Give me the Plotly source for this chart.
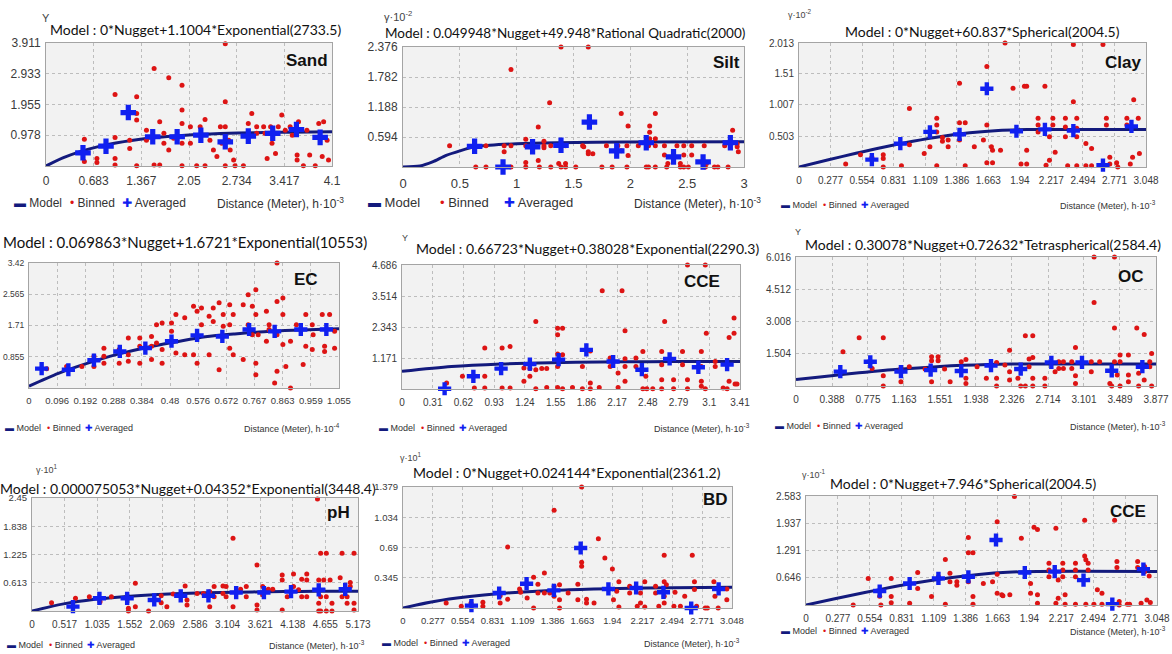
import plotly.graph_objects as go

W, H = 1172, 654

# ======================= DATA =======================
# ---- Sand ----
sand_binned = [(0.55,0.85),(0.55,0.14),(0.73,0.24),(0.73,0.11),(0.99,2.27),(0.99,0.91),(0.99,0.24),(0.99,0.03),
    (1.20,0.82),(1.20,0.56),(1.30,2.20),(1.30,1.67),(1.30,1.46),(1.30,0.01),(1.44,1.14),(1.44,0.82),(1.55,3.10),(1.55,0.03),
    (1.63,1.41),(1.63,0.03),(1.69,1.04),(1.69,0.72),(1.76,2.81),(1.76,0.51),(1.83,0.88),(1.95,2.57),(1.95,1.78),(1.95,1.35),
    (1.95,0.72),(1.95,0.01),(2.07,1.25),(2.07,0.72),(2.16,0.01),(2.21,1.25),(2.21,0.98),(2.28,1.48),(2.28,0.01),(2.35,0.82),
    (2.40,0.51),(2.45,0.30),(2.50,1.25),(2.52,0.72),(2.57,3.89),(2.57,2.04),(2.57,1.25),(2.57,0.01),(2.62,0.82),(2.64,0.51),
    (2.69,0.19),(2.71,0.01),(2.83,0.01),(2.90,1.35),(2.95,1.67),(3.02,1.25),(3.02,1.04),(3.12,1.25),(3.14,1.04),(3.17,0.24),
    (3.22,1.25),(3.24,0.72),(3.29,0.40),(3.33,1.25),(3.38,1.62),(3.43,1.14),(3.50,1.25),(3.53,0.98),(3.60,0.19),(3.60,0.35),
    (3.62,1.41),(3.69,0.01),(3.74,1.14),(3.78,0.35),(3.86,0.01),(3.91,1.35),(3.96,0.30),(3.98,1.41),(4.03,0.82),(4.05,0.19)]
sand_averaged = [(0.53,0.42),(0.86,0.63),(1.18,1.70),(1.53,0.93),(1.88,0.93),(2.22,0.98),(2.57,0.77),(2.90,0.95),
    (3.25,1.04),(3.59,1.16),(3.93,0.91)]
sand_model_h = [0, 0.25, 0.5, 0.75, 1.0, 1.25, 1.5, 2.0, 2.5, 3.0, 3.5, 4.1]
sand_model_g = [0, 0.264, 0.465, 0.617, 0.733, 0.821, 0.888, 0.978, 1.030, 1.059, 1.077, 1.088]
sand_xticks = [0, 0.683, 1.367, 2.05, 2.734, 3.417, 4.1]
sand_yticks = [0.978, 1.955, 2.933, 3.911]

# ---- Silt ----
silt_binned = [(0.41,0.42),(0.64,0.0),(0.73,0.0),(0.95,0.0),(1.08,0.0),(1.20,0.0),(1.30,0.0),(1.39,0.0),(1.43,0.0),
    (1.52,0.0),(1.75,0.0),(1.84,0.0),(1.97,0.0),(2.14,0.0),(2.16,0.0),(2.22,0.0),(2.32,0.0),(2.44,0.0),(2.47,0.0),
    (2.51,0.0),(2.66,0.0),(2.74,0.0),(2.77,0.0),(2.86,0.0),
    (0.73,0.42),(0.89,0.42),(0.95,0.42),(1.08,0.42),(1.24,0.42),(1.30,0.42),(1.43,0.42),(1.58,0.42),(1.79,0.42),
    (1.89,0.42),(1.97,0.42),(2.07,0.42),(2.16,0.42),(2.22,0.42),(2.30,0.42),(2.41,0.42),(2.47,0.42),(2.54,0.42),
    (2.65,0.42),(2.83,0.42),
    (0.95,1.93),(1.29,1.27),(1.39,2.376),(1.63,2.376),(1.19,0.79),(1.08,0.55),(0.89,0.30),(1.19,0.13),(1.24,0.51),
    (1.24,0.38),(1.59,0.40),(1.63,0.30),(1.63,0.26),(1.67,0.26),(1.37,0.07),(1.43,0.07),(1.08,0.09),(1.92,1.06),
    (1.98,0.81),(1.92,0.32),(1.98,0.23),(2.22,1.06),(2.17,0.81),(2.17,0.69),(2.17,0.56),(2.22,0.56),(2.30,0.24),
    (2.33,0.07),(2.47,0.24),(2.54,0.24),(2.44,0.07),(2.90,0.73),(2.94,0.40),(2.95,0.30),(2.67,0.07),(2.94,0.46)]
silt_averaged = [(0.63,0.41),(0.88,0.0),(1.14,0.40),(1.39,0.43),(1.64,0.89),(1.88,0.32),(2.14,0.48),(2.38,0.20),
    (2.64,0.10),(2.88,0.48)]
silt_model_h = [0, 0.15, 0.26, 0.38, 0.5, 0.63, 0.76, 1.0, 1.35, 1.94, 3.0]
silt_model_g = [0, 0.02, 0.10, 0.23, 0.32, 0.40, 0.43, 0.46, 0.48, 0.495, 0.50]
silt_xticks = [0, 0.5, 1, 1.5, 2, 2.5, 3]
silt_yticks = [0.594, 1.188, 1.782, 2.376]

# ---- Clay ----
clay_binned = [(0.41,0.05),(0.54,0.20),(0.64,0.16),(0.74,0.20),(0.74,0.14),(0.74,0.0),(0.90,0.02),(0.97,0.95),
    (0.97,0.36),(1.10,0.22),(1.15,0.33),(1.21,0.79),(1.21,0.68),(1.21,0.57),(1.21,0.02),(1.26,0.48),(1.26,0.42),
    (1.31,0.44),(1.31,0.33),(1.41,1.36),(1.41,0.72),(1.41,0.44),(1.46,0.72),(1.46,0.02),(1.54,0.33),(1.62,0.44),
    (1.65,1.63),(1.65,0.68),(1.65,0.07),(1.69,0.33),(1.70,0.27),(1.70,0.07),(1.77,0.27),(1.81,2.013),(1.88,1.28),
    (1.95,0.05),(1.98,1.31),(2.00,1.31),(2.00,0.27),(2.00,0.05),(2.10,0.79),(2.10,0.68),(2.10,0.57),(2.16,1.31),
    (2.17,0.03),(2.20,0.49),(2.20,0.11),(2.23,0.79),(2.23,0.68),(2.25,0.24),(2.34,0.79),(2.34,0.65),(2.34,0.49),
    (2.36,0.02),(2.41,1.99),(2.41,1.06),(2.44,0.79),(2.44,0.63),(2.44,0.49),(2.44,0.02),(2.52,0.38),(2.52,0.02),
    (2.57,0.30),(2.57,0.02),(2.67,1.99),(2.70,0.79),(2.70,0.68),(2.73,0.16),(2.73,0.05),(2.79,0.07),(2.80,0.0),
    (2.88,0.79),(2.88,0.68),(2.91,0.05),(2.93,0.16),(2.94,1.09),(2.98,0.79),(2.99,0.22)]
clay_averaged = [(0.64,0.12),(0.89,0.38),(1.15,0.57),(1.41,0.53),(1.65,1.27),(1.91,0.58),(2.16,0.61),(2.41,0.59),
    (2.67,0.03),(2.92,0.66)]
clay_model_h = [0, 0.25, 0.5, 0.75, 1.0, 1.25, 1.5, 1.75, 2.0045, 3.048]
clay_model_g = [0, 0.113, 0.223, 0.326, 0.417, 0.495, 0.555, 0.594, 0.608, 0.608]
clay_xticks = [0, 0.277, 0.554, 0.831, 1.109, 1.386, 1.663, 1.94, 2.217, 2.494, 2.771, 3.048]
clay_yticks = [0.503, 1.007, 1.51, 2.013]

# ---- EC ----
ec_binned = [(0.06,0.53),(0.128,0.59),(0.18,0.59),(0.221,0.87),(0.221,0.59),(0.255,1.09),(0.255,0.87),(0.255,0.68),
    (0.307,1.05),(0.307,0.68),(0.338,1.37),(0.338,0.91),(0.338,0.73),(0.377,1.37),(0.377,1.14),(0.377,0.68),
    (0.417,1.41),(0.417,1.14),(0.417,0.78),(0.434,1.73),(0.434,1.23),(0.453,1.78),(0.453,1.05),(0.453,0.68),
    (0.485,1.78),(0.485,1.55),(0.50,2.01),(0.50,0.96),(0.53,1.92),(0.53,0.91),(0.56,2.24),(0.56,0.91),(0.572,2.10),
    (0.572,0.68),(0.587,2.19),(0.587,1.73),(0.613,1.96),(0.613,0.91),(0.627,2.19),(0.627,1.82),(0.647,2.33),
    (0.647,0.50),(0.661,2.01),(0.661,1.69),(0.683,2.28),(0.683,1.73),(0.683,1.09),(0.695,2.01),(0.695,0.91),
    (0.729,2.28),(0.729,0.78),(0.746,2.55),(0.746,1.73),(0.760,2.24),(0.760,1.46),(0.772,2.69),(0.772,2.01),
    (0.772,0.68),(0.772,0.36),(0.78,1.46),(0.808,2.10),(0.808,1.28),(0.817,1.73),(0.817,1.60),(0.836,0.14),
    (0.844,3.42),(0.844,2.37),(0.844,1.46),(0.844,0.46),(0.864,2.46),(0.864,2.01),(0.864,1.19),(0.874,0.59),
    (0.89,0.0),(0.89,1.28),(0.91,1.73),(0.933,0.64),(0.942,2.01),(0.942,1.14),(0.964,1.73),(0.964,1.05),
    (0.967,1.46),(0.998,2.01),(1.006,1.14),(1.006,1.00),(1.023,2.01),(1.040,1.55),(1.040,1.09)]
ec_averaged = [(0.043,0.53),(0.134,0.50),(0.221,0.76),(0.309,1.00),(0.396,1.09),(0.485,1.28),(0.572,1.44),
    (0.658,1.41),(0.749,1.60),(0.836,1.55),(0.925,1.60),(1.012,1.60)]
ec_model_h = [0, 0.1, 0.2, 0.3, 0.4, 0.5, 0.6, 0.7, 0.8, 0.9, 1.055]
ec_model_g = [0.05, 0.40, 0.68, 0.92, 1.11, 1.26, 1.40, 1.48, 1.54, 1.58, 1.62]
ec_xticks = [0, 0.096, 0.192, 0.288, 0.384, 0.48, 0.576, 0.672, 0.767, 0.863, 0.959, 1.055]
ec_yticks = [0.855, 1.71, 2.565, 3.42]

# ---- CCE (row 2) ----
cce_binned = [(0.45,0.23),(0.61,0.48),(0.73,0.04),(0.835,1.55),(0.835,0.48),(0.835,0.04),(1.01,1.55),(1.01,0.04),
    (1.09,1.61),(1.09,0.04),(1.23,0.79),(1.23,0.29),(1.29,0.77),(1.29,0.48),(1.35,2.55),(1.35,0.73),(1.35,0.01),
    (1.41,0.77),(1.46,0.77),(1.46,0.06),(1.57,2.30),(1.57,2.05),(1.57,1.32),(1.57,0.85),(1.57,0.06),(1.62,2.30),
    (1.62,1.29),(1.62,0.01),(1.72,0.06),(1.82,0.85),(1.82,0.01),(1.90,1.44),(1.90,0.23),(1.90,0.01),(1.99,0.06),
    (2.02,3.71),(2.10,0.85),(2.10,1.17),(2.18,0.60),(2.18,0.06),(2.22,3.71),(2.25,2.20),(2.25,1.14),(2.25,0.85),
    (2.25,0.29),(2.36,1.17),(2.36,0.85),(2.43,1.42),(2.43,0.01),(2.46,0.48),(2.47,0.01),(2.53,0.01),(2.62,1.42),
    (2.62,0.92),(2.62,0.35),(2.62,0.01),(2.65,2.55),(2.74,0.35),(2.74,0.01),(2.83,1.42),(2.83,0.92),(2.88,0.35),
    (2.88,0.01),(2.88,4.686),(3.02,1.42),(3.02,0.85),(3.02,0.29),(3.02,0.10),(3.06,4.686),(3.07,2.11),(3.06,0.01),
    (3.16,1.04),(3.16,0.85),(3.24,0.04),(3.28,0.01),(3.30,1.95),(3.30,0.29),(3.35,2.68),(3.35,2.11),(3.36,0.19),
    (3.38,0.19)]
cce_averaged = [(0.43,0.01),(0.72,0.48),(1.00,0.77),(1.29,0.94),(1.58,1.11),(1.86,1.48),(2.13,1.04),(2.42,0.73),
    (2.70,1.14),(2.99,0.82),(3.28,0.92)]
cce_model_h = [0, 0.5, 1.0, 1.5, 2.0, 2.5, 3.0, 3.41]
cce_model_g = [0.667, 0.850, 0.945, 0.994, 1.020, 1.033, 1.040, 1.043]
cce_xticks = [0, 0.31, 0.62, 0.93, 1.24, 1.55, 1.86, 2.17, 2.48, 2.79, 3.1, 3.41]
cce_yticks = [1.171, 2.343, 3.514, 4.686]

# ---- OC ----
oc_binned = [(0.506,1.60),(0.68,2.25),(0.82,0.82),(0.94,2.25),(0.94,0.48),(0.94,0.0),(1.13,0.82),(1.13,0.20),
    (1.22,0.90),(1.39,0.79),(1.46,1.36),(1.46,1.18),(1.46,0.20),(1.53,1.36),(1.53,1.18),(1.60,0.79),(1.66,0.20),
    (1.78,1.13),(1.83,1.24),(1.83,0.36),(1.83,0.12),(1.95,0.90),(2.05,0.36),(2.16,1.10),(2.16,0.36),(2.16,0.0),
    (2.25,0.98),(2.30,1.67),(2.30,0.67),(2.30,0.28),(2.39,0.36),(2.42,0.0),(2.47,2.34),(2.47,0.0),(2.51,1.26),
    (2.51,0.90),(2.55,2.34),(2.55,1.33),(2.55,0.36),(2.55,0.0),(2.68,0.36),(2.68,0.0),(2.79,0.67),(2.83,1.13),
    (2.83,0.82),(2.88,1.13),(2.88,0.82),(2.97,1.13),(2.97,0.82),(3.01,1.80),(3.01,0.48),(3.01,0.12),(3.18,1.13),
    (3.18,0.67),(3.21,6.016),(3.21,3.89),(3.27,1.13),(3.38,0.12),(3.40,0.0),(3.43,6.016),(3.43,2.71),(3.43,1.13),
    (3.46,0.51),(3.49,1.44),(3.49,1.13),(3.49,0.0),(3.58,1.44),(3.58,0.51),(3.58,0.20),(3.67,2.71),(3.69,0.59),
    (3.69,0.0),(3.75,2.40),(3.75,0.28),(3.81,1.13),(3.81,0.90),(3.83,1.52),(3.83,0.0)]
oc_averaged = [(0.477,0.67),(0.80,1.13),(1.13,0.67),(1.45,0.74),(1.78,0.70),(2.10,0.95),(2.42,0.79),(2.75,1.10),
    (3.08,1.10),(3.40,0.71),(3.73,0.90)]
oc_model_h = [0, 0.258, 0.517, 1.034, 1.551, 2.068, 2.326, 2.584, 3.877]
oc_model_g = [0.301, 0.424, 0.543, 0.755, 0.915, 1.005, 1.023, 1.027, 1.027]
oc_xticks = [0, 0.388, 0.775, 1.163, 1.551, 1.938, 2.326, 2.714, 3.101, 3.489, 3.877]
oc_yticks = [1.504, 3.008, 4.512, 6.016]

# ---- pH ----
ph_binned = [(0.31,0.18),(0.69,0.275),(0.91,0.31),(1.08,0.20),(1.26,0.31),(1.53,0.06),(1.53,0.0),(1.64,0.60),
    (1.64,0.09),(1.85,0.0),(2.05,0.33),(2.05,0.18),(2.14,0.09),(2.24,0.37),(2.43,0.54),(2.46,0.24),(2.46,0.13),
    (2.62,0.38),(2.72,0.38),(2.82,0.42),(2.82,0.09),(2.89,0.53),(2.89,0.31),(3.03,0.54),(3.03,0.38),(3.08,0.53),
    (3.08,0.31),(3.19,1.58),(3.19,0.09),(3.31,0.47),(3.40,0.53),(3.40,0.31),(3.57,1.00),(3.57,0.13),(3.57,0.02),
    (3.66,0.53),(3.66,0.35),(3.75,0.47),(3.82,0.47),(3.97,0.78),(3.97,0.67),(3.97,0.02),(4.05,0.31),(4.15,0.80),
    (4.15,0.53),(4.23,0.46),(4.28,0.69),(4.28,0.31),(4.36,0.80),(4.36,0.67),(4.36,0.31),(4.53,2.43),(4.55,0.67),
    (4.55,0.17),(4.55,0.0),(4.58,1.25),(4.58,0.31),(4.58,0.0),(4.63,0.67),(4.67,1.25),(4.67,0.31),(4.67,0.0),
    (4.73,0.67),(4.76,0.17),(4.76,0.0),(4.89,0.72),(4.92,1.25),(4.92,0.31),(5.00,0.31),(5.00,0.17),(5.05,0.62),
    (5.05,0.53),(5.11,1.25),(5.11,0.17),(5.11,0.02)]
ph_averaged = [(0.65,0.094),(1.07,0.275),(1.51,0.275),(1.94,0.24),(2.36,0.33),(2.80,0.33),(3.24,0.40),(3.68,0.40),
    (4.11,0.42),(4.55,0.46),(4.97,0.47)]
ph_model_h = [0, 0.5, 1.0, 1.5, 2.0, 2.5, 3.0, 3.5, 4.0, 4.5, 5.173]
ph_model_g = [0, 0.154, 0.253, 0.317, 0.359, 0.386, 0.403, 0.414, 0.422, 0.427, 0.430]
ph_xticks = [0, 0.517, 1.035, 1.552, 2.069, 2.586, 3.104, 3.621, 4.138, 4.655, 5.173]
ph_yticks = [0.613, 1.225, 1.838, 2.45]

# ---- BD ----
bd_binned = [(0.40,0.057),(0.54,0.019),(0.63,0.057),(0.74,0.065),(0.74,0.019),(0.90,0.14),(0.90,0.057),(0.97,0.695),
    (0.97,0.10),(1.08,0.217),(1.09,0.18),(1.15,0.114),(1.21,0.35),(1.21,0.0),(1.25,0.27),(1.25,0.17),(1.31,0.40),
    (1.31,0.17),(1.36,0.17),(1.40,1.113),(1.40,0.247),(1.40,0.133),(1.45,0.266),(1.45,0.095),(1.45,0.0),(1.53,0.17),
    (1.62,0.27),(1.62,0.095),(1.655,1.379),(1.655,0.52),(1.655,0.475),(1.70,0.10),(1.70,0.057),(1.77,0.057),
    (1.81,0.79),(1.87,0.57),(1.94,0.445),(1.95,0.095),(1.98,0.19),(2.00,0.30),(2.00,0.01),(2.10,0.247),(2.10,0.17),
    (2.17,0.019),(2.20,0.17),(2.20,0.057),(2.24,0.30),(2.24,0.01),(2.34,0.247),(2.34,0.17),(2.37,0.019),(2.42,0.60),
    (2.42,0.30),(2.42,0.133),(2.42,0.057),(2.44,0.266),(2.51,0.019),(2.52,0.18),(2.57,0.019),(2.61,0.133),
    (2.68,0.60),(2.70,0.30),(2.70,0.21),(2.72,0.019),(2.80,0.0),(2.82,0.0),(2.88,0.30),(2.89,0.133),(2.92,0.0),
    (3.00,0.095),(3.00,0.217)]
bd_averaged = [(0.634,0.027),(0.891,0.171),(1.145,0.277),(1.398,0.201),(1.646,0.684),(1.903,0.217),(2.160,0.228),
    (2.413,0.179),(2.670,0.0),(2.924,0.217)]
bd_model_h = [0, 0.25, 0.5, 0.75, 1.0, 1.5, 2.0, 2.5, 3.048]
bd_model_g = [0, 0.066, 0.113, 0.148, 0.174, 0.206, 0.222, 0.231, 0.236]
bd_xticks = [0, 0.277, 0.554, 0.831, 1.109, 1.386, 1.663, 1.94, 2.217, 2.494, 2.771, 3.048]
bd_yticks = [0.345, 0.69, 1.034, 1.379]

# ---- CCE (row 3) ----
cce2_binned = [(0.41,0.0),(0.54,0.63),(0.64,0.21),(0.65,0.0),(0.74,0.63),(0.74,0.20),(0.74,0.055),(0.90,0.04),
    (0.97,0.77),(0.97,0.39),(1.09,0.20),(1.15,0.67),(1.21,1.08),(1.21,0.02),(1.25,0.75),(1.25,0.55),(1.31,0.55),
    (1.31,0.47),(1.41,1.60),(1.41,1.24),(1.41,0.55),(1.45,1.24),(1.45,0.20),(1.45,0.02),(1.54,0.51),(1.62,0.55),
    (1.66,1.97),(1.66,0.73),(1.66,0.28),(1.70,0.24),(1.71,0.22),(1.77,0.24),(1.81,2.57),(1.87,1.58),(1.95,0.51),
    (1.95,0.28),(1.98,1.84),(2.01,1.79),(2.01,0.24),(2.01,0.04),(2.11,0.99),(2.11,0.83),(2.11,0.67),(2.17,1.82),
    (2.17,0.04),(2.19,0.59),(2.19,0.16),(2.23,0.99),(2.23,0.83),(2.23,0.67),(2.25,0.24),(2.25,0.02),(2.34,0.99),
    (2.34,0.83),(2.34,0.67),(2.34,0.02),(2.42,2.01),(2.42,1.16),(2.43,1.07),(2.43,0.02),(2.45,0.99),(2.45,0.83),
    (2.50,0.02),(2.53,0.36),(2.57,0.28),(2.57,0.02),(2.68,2.01),(2.70,1.03),(2.70,0.89),(2.72,0.08),(2.72,0.0),
    (2.79,0.02),(2.81,0.02),(2.88,1.03),(2.88,0.89),(2.91,0.04),(2.94,0.91),(2.94,0.79),(2.96,0.12),(2.98,0.69),
    (2.99,0.06)]
cce2_averaged = [(0.64,0.33),(0.90,0.51),(1.15,0.63),(1.41,0.67),(1.65,1.54),(1.90,0.77),(2.16,0.79),(2.41,0.59),
    (2.66,0.02),(2.93,0.85)]
cce2_model_h = [0, 0.25, 0.5, 0.75, 1.0, 1.25, 1.5, 1.75, 2.0045, 3.048]
cce2_model_g = [0, 0.148, 0.291, 0.425, 0.545, 0.647, 0.725, 0.776, 0.795, 0.795]
cce2_xticks = [0, 0.277, 0.554, 0.831, 1.109, 1.386, 1.663, 1.94, 2.217, 2.494, 2.771, 3.048]
cce2_yticks = [0.646, 1.291, 1.937, 2.583]

legend_names = ["Model", "Binned", "Averaged"]

# ======================= LAYOUT / STYLE =======================
def fx(p):
    return p / W

def fy(p):
    return 1 - p / H

TICKF = "Liberation Sans, Arial, sans-serif"
TITLEF = "Lato, Open Sans, sans-serif"
BOLDF = "Liberation Sans, Arial, sans-serif"
LEGF = "Liberation Sans, DejaVu Sans, sans-serif"

D3 = "Distance (Meter), h·10<sup>-3</sup>"
D4 = "Distance (Meter), h·10<sup>-4</sup>"

panels = [
    dict(binned=sand_binned, avg=sand_averaged, mh=sand_model_h, mg=sand_model_g, xt=sand_xticks, yt=sand_yticks,
         rect=(46, 43, 332, 166), title="Model : 0*Nugget+1.1004*Exponential(2733.5)", txy=(195, 30), ts=14,
         label="Sand", lxy=(330, 60), ylab="Y", yxy=(40, 18), dist=D3, dxy=(346, 203),
         leg=(12, 203, 12, (0, 56, 108)), tfs=12, ytfs=12, big=True),
    dict(binned=silt_binned, avg=silt_averaged, mh=silt_model_h, mg=silt_model_g, xt=silt_xticks, yt=silt_yticks,
         rect=(403, 47, 744, 167), title="Model : 0.049948*Nugget+49.948*Rational Quadratic(2000)", txy=(565, 33),
         ts=13.5, label="Silt", lxy=(742, 62), ylab="γ·10<sup>-2</sup>", yxy=(382, 16), dist=D3, dxy=(763, 203),
         leg=(366, 203, 13, (0, 72, 136)), tfs=13, ytfs=12, big=True),
    dict(binned=clay_binned, avg=clay_averaged, mh=clay_model_h, mg=clay_model_g, xt=clay_xticks, yt=clay_yticks,
         rect=(799, 43, 1146, 167), title="Model : 0*Nugget+60.837*Spherical(2004.5)", txy=(982, 32), ts=14,
         label="Clay", lxy=(1143, 62), ylab="γ·10<sup>-2</sup>", yxy=(786, 14), dist=D3, dxy=(1158, 205),
         leg=(779, 205, 9, (0, 42, 80)), tfs=10, ytfs=10, big=False),
    dict(binned=ec_binned, avg=ec_averaged, mh=ec_model_h, mg=ec_model_g, xt=ec_xticks, yt=ec_yticks,
         rect=(29, 263, 339, 388), title="Model : 0.069863*Nugget+1.6721*Exponential(10553)", txy=(185, 242), ts=15,
         label="EC", lxy=(320, 279), ylab="", yxy=(30, 240), dist=D4, dxy=(342, 428),
         leg=(3, 428, 9, (0, 42, 80)), tfs=9.5, ytfs=8.5, big=False),
    dict(binned=cce_binned, avg=cce_averaged, mh=cce_model_h, mg=cce_model_g, xt=cce_xticks, yt=cce_yticks,
         rect=(402, 265, 740, 389), title="Model : 0.66723*Nugget+0.38028*Exponential(2290.3)", txy=(587, 248), ts=14,
         label="CCE", lxy=(722, 281), ylab="Y", yxy=(400, 238), dist=D3, dxy=(752, 428),
         leg=(377, 428, 9, (0, 42, 80)), tfs=10, ytfs=10, big=False),
    dict(binned=oc_binned, avg=oc_averaged, mh=oc_model_h, mg=oc_model_g, xt=oc_xticks, yt=oc_yticks,
         rect=(796, 257, 1156, 386), title="Model : 0.30078*Nugget+0.72632*Tetraspherical(2584.4)", txy=(983, 244),
         ts=14, label="OC", lxy=(1146, 276), ylab="Y", yxy=(793, 232), dist=D3, dxy=(1168, 426),
         leg=(773, 426, 9, (0, 42, 80)), tfs=10, ytfs=10, big=False),
    dict(binned=ph_binned, avg=ph_averaged, mh=ph_model_h, mg=ph_model_g, xt=ph_xticks, yt=ph_yticks,
         rect=(32, 498, 358, 611), title="Model : 0.000075053*Nugget+0.04352*Exponential(3448.4)", txy=(188, 488),
         ts=14, label="pH", lxy=(352, 512), ylab="γ·10<sup>1</sup>", yxy=(34, 469), dist=D3, dxy=(367, 645),
         leg=(5, 645, 9, (0, 42, 80)), tfs=10, ytfs=9.5, big=False),
    dict(binned=bd_binned, avg=bd_averaged, mh=bd_model_h, mg=bd_model_g, xt=bd_xticks, yt=bd_yticks,
         rect=(403, 487, 732, 608), title="Model : 0*Nugget+0.024144*Exponential(2361.2)", txy=(567, 472), ts=14,
         label="BD", lxy=(730, 499), ylab="γ·10<sup>1</sup>", yxy=(398, 457), dist=D3, dxy=(742, 643),
         leg=(380, 643, 9, (0, 42, 80)), tfs=9.5, ytfs=9.5, big=False),
    dict(binned=cce2_binned, avg=cce2_averaged, mh=cce2_model_h, mg=cce2_model_g, xt=cce2_xticks, yt=cce2_yticks,
         rect=(806, 496, 1157, 605), title="Model : 0*Nugget+7.946*Spherical(2004.5)", txy=(963, 483), ts=14,
         label="CCE", lxy=(1148, 511), ylab="γ·10<sup>-1</sup>", yxy=(800, 474), dist=D3, dxy=(1168, 631),
         leg=(779, 631, 9, (0, 42, 80)), tfs=10, ytfs=10, big=False),
]

MODEL_C = "#131a7d"
BIN_C = "#dd1414"
AVG_C = "#1020f0"
GLYPHS = [("▬", MODEL_C), ("•", BIN_C), ("✚", AVG_C)]

fig = go.Figure()
layout = dict(width=W, height=H, margin=dict(l=0, r=0, t=0, b=0, autoexpand=False), paper_bgcolor="white",
              plot_bgcolor="#f2f2f2", showlegend=False, annotations=[])

for i, p in enumerate(panels):
    n = "" if i == 0 else str(i + 1)
    xa, ya = "x" + n, "y" + n
    big = p["big"]
    bx = [v[0] for v in p["binned"]]
    by = [v[1] for v in p["binned"]]
    axv = [v[0] for v in p["avg"]]
    ayv = [v[1] for v in p["avg"]]
    fig.add_trace(go.Scatter(x=p["mh"], y=p["mg"], mode="lines", name=legend_names[0], xaxis=xa, yaxis=ya,
                             line=dict(color=MODEL_C, width=3, shape="spline", smoothing=0.8), cliponaxis=False))
    fig.add_trace(go.Scatter(x=bx, y=by, mode="markers", name=legend_names[1], xaxis=xa, yaxis=ya,
                             marker=dict(color=BIN_C, size=5), cliponaxis=False))
    fig.add_trace(go.Scatter(x=axv, y=ayv, mode="markers", name=legend_names[2], xaxis=xa, yaxis=ya,
                             marker=dict(color=AVG_C, size=13 if big else 11, symbol="cross", line=dict(width=0)),
                             cliponaxis=False))
    x0, y0, x1, y1 = p["rect"]
    common = dict(showline=True, mirror=True, linecolor="#a4a4a4", linewidth=1, showgrid=True,
                  gridcolor="#bdbdbd", griddash="dot", gridwidth=1, zeroline=False, tickangle=0,
                  automargin=False, ticks="outside", tickcolor="rgba(0,0,0,0)", fixedrange=True)
    layout["xaxis" + n] = dict(domain=[fx(x0), fx(x1)], range=[0, p["xt"][-1]], anchor=ya, ticklen=4,
                               tickfont=dict(family=TICKF, size=p["tfs"], color="#3a3a3a"),
                               tickvals=p["xt"], ticktext=[f"{v:g}" for v in p["xt"]], **common)
    layout["yaxis" + n] = dict(domain=[fy(y1), fy(y0)], range=[0, p["yt"][-1]], anchor=xa, ticklen=2,
                               tickfont=dict(family=TICKF, size=p["ytfs"], color="#3a3a3a"),
                               tickvals=p["yt"], ticktext=[f"{v:g}" for v in p["yt"]], **common)
    anns = layout["annotations"]
    anns.append(dict(text=p["title"], x=fx(p["txy"][0]), y=fy(p["txy"][1]), xref="paper", yref="paper",
                     showarrow=False, xanchor="center", yanchor="middle",
                     font=dict(family=TITLEF, size=p["ts"], color="#111")))
    anns.append(dict(text="<b>" + p["label"] + "</b>", x=fx(p["lxy"][0]), y=fy(p["lxy"][1]), xref="paper",
                     yref="paper", showarrow=False, xanchor="right", yanchor="middle",
                     font=dict(family=BOLDF, size=17, color="#111")))
    if p["ylab"]:
        anns.append(dict(text=p["ylab"], x=fx(p["yxy"][0]), y=fy(p["yxy"][1]), xref="paper", yref="paper",
                         showarrow=False, xanchor="left", yanchor="middle",
                         font=dict(family=TICKF, size=11 if big else 9, color="#444")))
    anns.append(dict(text=p["dist"], x=fx(p["dxy"][0]), y=fy(p["dxy"][1]), xref="paper", yref="paper",
                     showarrow=False, xanchor="right", yanchor="middle",
                     font=dict(family=TICKF, size=12 if big else 9, color="#333")))
    lx, ly, lfs, offs = p["leg"]
    for (g, c), name, o in zip(GLYPHS, legend_names, offs):
        anns.append(dict(text=f'<span style="color:{c}">{g}</span> {name}', x=fx(lx + o), y=fy(ly),
                         xref="paper", yref="paper", showarrow=False, xanchor="left", yanchor="middle",
                         font=dict(family=LEGF, size=lfs, color="#333")))

fig.update_layout(**layout)
fig.write_html("out.html", config={"displayModeBar": False},
               post_script="document.body.style.margin='0';document.documentElement.style.overflow='hidden';")
